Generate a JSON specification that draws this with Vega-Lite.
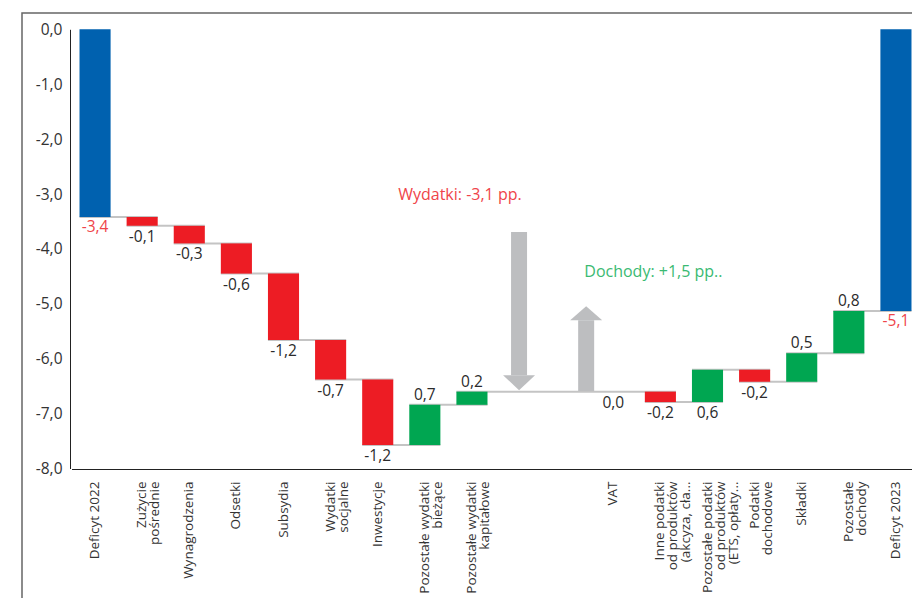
{
  "$schema": "https://vega.github.io/schema/vega-lite/v6.json",
  "width": 895,
  "height": 590,
  "autosize": "none",
  "padding": {"left": 22, "top": 13, "right": 0, "bottom": 0},
  "background": "white",
  "config": {
    "view": {"stroke": "#666666", "strokeWidth": 1.5},
    "font": "Open Sans",
    "axis": {"grid": false}
  },
  "datasets": {
    "bars": [
      {"cat": "Deficyt 2022", "start": 0, "end": -3.42, "type": "deficit", "label": "-3,4"},
      {"cat": "Zużycie|pośrednie", "start": -3.42, "end": -3.58, "type": "neg", "label": "-0,1"},
      {"cat": "Wynagrodzenia", "start": -3.58, "end": -3.90, "type": "neg", "label": "-0,3"},
      {"cat": "Odsetki", "start": -3.90, "end": -4.45, "type": "neg", "label": "-0,6"},
      {"cat": "Subsydia", "start": -4.45, "end": -5.66, "type": "neg", "label": "-1,2"},
      {"cat": "Wydatki|socjalne", "start": -5.66, "end": -6.38, "type": "neg", "label": "-0,7"},
      {"cat": "Inwestycje", "start": -6.38, "end": -7.57, "type": "neg", "label": "-1,2"},
      {"cat": "Pozostałe wydatki|bieżące", "start": -7.57, "end": -6.84, "type": "pos", "label": "0,7"},
      {"cat": "Pozostałe wydatki|kapitałowe", "start": -6.84, "end": -6.60, "type": "pos", "label": "0,2"},
      {"cat": "VAT", "start": -6.60, "end": -6.60, "type": "neg", "label": "0,0"},
      {"cat": "Inne podatki|od produktów|(akcyza, cła...", "start": -6.60, "end": -6.79, "type": "neg", "label": "-0,2"},
      {"cat": "Pozostałe podatki|od produktów|(ETS, opłaty...", "start": -6.79, "end": -6.20, "type": "pos", "label": "0,6"},
      {"cat": "Podatki|dochodowe", "start": -6.20, "end": -6.42, "type": "neg", "label": "-0,2"},
      {"cat": "Składki", "start": -6.42, "end": -5.90, "type": "pos", "label": "0,5"},
      {"cat": "Pozostałe|dochody", "start": -5.90, "end": -5.13, "type": "pos", "label": "0,8"},
      {"cat": "Deficyt 2023", "start": 0, "end": -5.13, "type": "deficit", "label": "-5,1"}
    ],
    "links": [
      {"from": "Deficyt 2022", "to": "Zużycie|pośrednie", "level": -3.42},
      {"from": "Zużycie|pośrednie", "to": "Wynagrodzenia", "level": -3.58},
      {"from": "Wynagrodzenia", "to": "Odsetki", "level": -3.90},
      {"from": "Odsetki", "to": "Subsydia", "level": -4.45},
      {"from": "Subsydia", "to": "Wydatki|socjalne", "level": -5.66},
      {"from": "Wydatki|socjalne", "to": "Inwestycje", "level": -6.38},
      {"from": "Inwestycje", "to": "Pozostałe wydatki|bieżące", "level": -7.57},
      {"from": "Pozostałe wydatki|bieżące", "to": "Pozostałe wydatki|kapitałowe", "level": -6.84},
      {"from": "Pozostałe wydatki|kapitałowe", "to": "Inne podatki|od produktów|(akcyza, cła...", "level": -6.60},
      {"from": "Inne podatki|od produktów|(akcyza, cła...", "to": "Pozostałe podatki|od produktów|(ETS, opłaty...", "level": -6.79},
      {"from": "Pozostałe podatki|od produktów|(ETS, opłaty...", "to": "Podatki|dochodowe", "level": -6.20},
      {"from": "Podatki|dochodowe", "to": "Składki", "level": -6.42},
      {"from": "Składki", "to": "Pozostałe|dochody", "level": -5.90},
      {"from": "Pozostałe|dochody", "to": "Deficyt 2023", "level": -5.13}
    ],
    "downArrow": [{"slot": "gap1", "top": -3.69, "base": -6.30}],
    "upArrow": [{"slot": "gap2", "top": -5.30, "base": -6.59}],
    "notes": [
      {"slot": "Pozostałe wydatki|kapitałowe", "v": -3.02, "t": "Wydatki: -3,1 pp.", "grp": "w"},
      {"slot": "Inne podatki|od produktów|(akcyza, cła...", "v": -4.42, "t": "Dochody: +1,5 pp..", "grp": "d"}
    ]
  },
  "layer": [
    {
      "data": {"name": "links"},
      "mark": {"type": "rule", "color": "#c4c4c4", "strokeWidth": 2},
      "encoding": {
        "x": {"field": "from", "type": "nominal", "bandPosition": 0, "title": null},
        "x2": {"field": "to", "bandPosition": 1},
        "y": {"field": "level", "type": "quantitative", "title": null}
      }
    },
    {
      "data": {"name": "bars"},
      "mark": {"type": "bar"},
      "encoding": {
        "x": {
          "field": "cat",
          "type": "nominal",
          "sort": null,
          "title": null,
          "scale": {
            "domain": [
              "Deficyt 2022", "Zużycie|pośrednie", "Wynagrodzenia", "Odsetki", "Subsydia",
              "Wydatki|socjalne", "Inwestycje", "Pozostałe wydatki|bieżące", "Pozostałe wydatki|kapitałowe",
              "gap1", "gap2", "VAT", "Inne podatki|od produktów|(akcyza, cła...",
              "Pozostałe podatki|od produktów|(ETS, opłaty...", "Podatki|dochodowe", "Składki",
              "Pozostałe|dochody", "Deficyt 2023"
            ],
            "range": [49.5, 897.5],
            "paddingInner": 0.34,
            "paddingOuter": 0.17
          },
          "axis": {
            "orient": "bottom",
            "offset": -134,
            "labelAngle": -90,
            "ticks": false,
            "tickSize": 0,
            "labelPadding": 12,
            "labelFontSize": 13.5,
            "labelColor": "#333333",
            "labelLineHeight": 13,
            "labelOverlap": false,
            "labelLimit": 0,
            "domainColor": "#222222",
            "domainWidth": 1,
            "labelExpr": "indexof(datum.label, 'gap') == 0 ? '' : split(datum.label, '|')"
          }
        },
        "y": {
          "field": "start",
          "type": "quantitative",
          "title": null,
          "scale": {"domain": [-8, 0], "range": [455.5, 16.3], "nice": false, "zero": false},
          "axis": {
            "orient": "left",
            "offset": -48,
            "values": [-8, -7, -6, -5, -4, -3, -2, -1, 0],
            "ticks": false,
            "tickSize": 0,
            "labelPadding": 8,
            "labelFontSize": 15.5,
            "labelColor": "#333333",
            "domainColor": "#222222",
            "domainWidth": 1,
            "labelExpr": "replace(replace(format(datum.value, '.1f'), '.', ','), '\u2212', '-')"
          }
        },
        "y2": {"field": "end"},
        "color": {
          "field": "type",
          "type": "nominal",
          "legend": null,
          "scale": {"domain": ["deficit", "neg", "pos"], "range": ["#0061af", "#ed1c24", "#00a651"]}
        }
      }
    },
    {
      "data": {"name": "bars"},
      "transform": [{"filter": "datum.type == 'deficit'"}],
      "mark": {"type": "text", "baseline": "top", "dy": 3, "fontSize": 15.5, "color": "#ef4449"},
      "encoding": {
        "x": {"field": "cat", "type": "nominal", "title": null},
        "y": {"field": "end", "type": "quantitative", "title": null},
        "text": {"field": "label"}
      }
    },
    {
      "data": {"name": "bars"},
      "transform": [{"filter": "datum.type == 'neg'"}],
      "mark": {"type": "text", "baseline": "top", "dy": 4, "fontSize": 15.5, "color": "#2b2b2b"},
      "encoding": {
        "x": {"field": "cat", "type": "nominal", "title": null},
        "y": {"field": "end", "type": "quantitative", "title": null},
        "text": {"field": "label"}
      }
    },
    {
      "data": {"name": "bars"},
      "transform": [{"filter": "datum.type == 'pos' && datum.label != '0,6'"}],
      "mark": {"type": "text", "baseline": "alphabetic", "dy": -5, "fontSize": 15.5, "color": "#2b2b2b"},
      "encoding": {
        "x": {"field": "cat", "type": "nominal", "title": null},
        "y": {"field": "end", "type": "quantitative", "title": null},
        "text": {"field": "label"}
      }
    },
    {
      "data": {"name": "bars"},
      "transform": [{"filter": "datum.label == '0,6'"}],
      "mark": {"type": "text", "baseline": "top", "dy": 4, "fontSize": 15.5, "color": "#2b2b2b"},
      "encoding": {
        "x": {"field": "cat", "type": "nominal", "title": null},
        "y": {"field": "start", "type": "quantitative", "title": null},
        "text": {"field": "label"}
      }
    },
    {
      "data": {"name": "downArrow"},
      "mark": {"type": "rule", "color": "#bdbec0", "strokeWidth": 16},
      "encoding": {
        "x": {"field": "slot", "type": "nominal", "title": null},
        "y": {"field": "top", "type": "quantitative", "title": null},
        "y2": {"field": "base"}
      }
    },
    {
      "data": {"name": "downArrow"},
      "mark": {"type": "point", "filled": true, "opacity": 1, "color": "#bdbec0", "size": 1024, "shape": "M-1,0L1,0L0,0.94Z"},
      "encoding": {
        "x": {"field": "slot", "type": "nominal", "title": null},
        "y": {"field": "base", "type": "quantitative", "title": null}
      }
    },
    {
      "data": {"name": "upArrow"},
      "mark": {"type": "rule", "color": "#bdbec0", "strokeWidth": 16, "xOffset": 20},
      "encoding": {
        "x": {"field": "slot", "type": "nominal", "title": null},
        "y": {"field": "top", "type": "quantitative", "title": null},
        "y2": {"field": "base"}
      }
    },
    {
      "data": {"name": "upArrow"},
      "mark": {"type": "point", "filled": true, "opacity": 1, "color": "#bdbec0", "size": 1024, "shape": "M-1,0L1,0L0,-0.88Z", "xOffset": 20},
      "encoding": {
        "x": {"field": "slot", "type": "nominal", "title": null},
        "y": {"field": "top", "type": "quantitative", "title": null}
      }
    },
    {
      "data": {"name": "notes"},
      "transform": [{"filter": "datum.grp == 'w'"}],
      "mark": {"type": "text", "align": "center", "baseline": "middle", "fontSize": 16, "color": "#ef4449", "dx": -12},
      "encoding": {
        "x": {"field": "slot", "type": "nominal", "title": null},
        "y": {"field": "v", "type": "quantitative", "title": null},
        "text": {"field": "t"}
      }
    },
    {
      "data": {"name": "notes"},
      "transform": [{"filter": "datum.grp == 'd'"}],
      "mark": {"type": "text", "align": "center", "baseline": "middle", "fontSize": 16, "color": "#3aba72", "dx": -7},
      "encoding": {
        "x": {"field": "slot", "type": "nominal", "title": null},
        "y": {"field": "v", "type": "quantitative", "title": null},
        "text": {"field": "t"}
      }
    }
  ]
}
